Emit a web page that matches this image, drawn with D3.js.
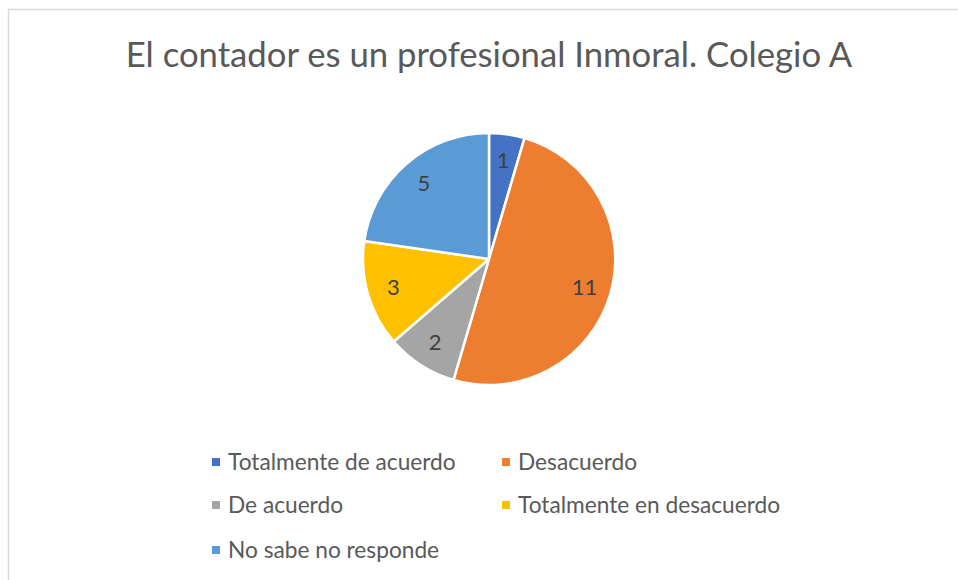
<!DOCTYPE html>
<html>
<head>
<meta charset="utf-8">
<script src="https://cdn.jsdelivr.net/npm/d3@7"></script>
<style>
  html, body { margin: 0; padding: 0; background: #ffffff; }
  svg { display: block; }
  text { font-family: Lato, "Open Sans", sans-serif; }
</style>
</head>
<body>
<svg id="chart" width="958" height="580"></svg>
<script>
// Survey answers for "Colegio A"
const categories = [
  "Totalmente de acuerdo",
  "Desacuerdo",
  "De acuerdo",
  "Totalmente en desacuerdo",
  "No sabe no responde"
];
const counts = [1, 11, 2, 3, 5];
const colors = ["#4472C4", "#ED7D31", "#A5A5A5", "#FFC000", "#5B9BD5"];
const title = "El contador es un profesional Inmoral. Colegio A";

const width = 958, height = 580;
const svg = d3.select("#chart");

// chart area frame
svg.append("rect")
  .attr("x", 8.5).attr("y", 9.5)
  .attr("width", width + 10).attr("height", height + 10)
  .attr("fill", "#ffffff")
  .attr("stroke", "#d9d9d9")
  .attr("stroke-width", 1.5);

// title
svg.append("text")
  .attr("x", 489).attr("y", 67)
  .attr("text-anchor", "middle")
  .attr("font-size", 34.7)
  .attr("fill", "#595959")
  .text(title);

// pie
const cx = 489, cy = 259, radius = 126;
const data = categories.map((c, i) => ({ name: c, value: counts[i], color: colors[i] }));
const pie = d3.pie().value(d => d.value).sort(null);
const arcs = pie(data);
const arc = d3.arc().innerRadius(0).outerRadius(radius);
const labelArc = d3.arc().innerRadius(radius * 0.79).outerRadius(radius * 0.79);

const g = svg.append("g").attr("transform", `translate(${cx},${cy})`);
g.selectAll("path.slice")
  .data(arcs)
  .enter().append("path")
  .attr("class", "slice")
  .attr("d", arc)
  .attr("fill", d => d.data.color)
  .attr("stroke", "#ffffff")
  .attr("stroke-width", 2.5)
  .attr("stroke-linejoin", "round");

g.selectAll("text.value")
  .data(arcs)
  .enter().append("text")
  .attr("class", "value")
  .attr("transform", d => `translate(${labelArc.centroid(d)})`)
  .attr("text-anchor", "middle")
  .attr("dy", "0.35em")
  .attr("font-size", 22)
  .attr("fill", "#404040")
  .text(d => d.data.value);

// legend: two columns, three rows
const legendCols = [212, 502];
const legendRows = [462, 505, 550];
const legend = svg.append("g");
data.forEach((d, i) => {
  const x = legendCols[i % 2];
  const y = legendRows[Math.floor(i / 2)];
  legend.append("rect")
    .attr("x", x).attr("y", y - 4)
    .attr("width", 8).attr("height", 8)
    .attr("fill", d.color);
  legend.append("text")
    .attr("x", x + 16).attr("y", y)
    .attr("dy", "0.35em")
    .attr("font-size", 22.7)
    .attr("fill", "#595959")
    .text(d.name);
});
</script>
</body>
</html>
